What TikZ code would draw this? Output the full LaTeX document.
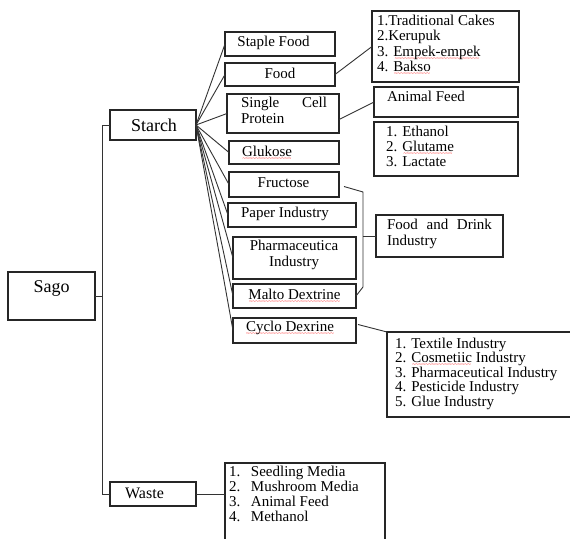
\documentclass[tikz,border=0pt]{standalone}
\usepackage{fontspec}
\setmainfont{Liberation Serif}
\newsavebox\rwbox
\newcommand\rw[1]{\sbox\rwbox{#1}\rlap{\textcolor{red}{\raisebox{-4pt}[0pt][0pt]{\hbox to \wd\rwbox{\cleaders\hbox{\fontsize{6}{6}\selectfont\char126}\hfill}}}}\usebox\rwbox}
\begin{document}
\begin{tikzpicture}[x=1pt,y=-1pt,
  box/.style={draw=black!85,line width=1.1pt,inner sep=0pt,outer sep=0pt,anchor=north west},
  txt/.style={inner sep=0pt,outer sep=0pt,text=black,font=\fontsize{15}{15}\selectfont},
  lst/.style={txt,anchor=north west,align=left},
  con/.style={draw=black!80,line width=0.9pt}]
\fill[white] (0,0) rectangle (570,538);
\useasboundingbox (0,0) rectangle (570,538);
% boxes
\node[box,minimum width=87pt,minimum height=48pt] (sago) at (8,272) {};
\node[box,minimum width=86pt,minimum height=30pt] (starch) at (110,110) {};
\node[box,minimum width=86pt,minimum height=24pt] (waste) at (110,482) {};
\node[box,minimum width=160pt,minimum height=90pt] (wlist) at (225,463) {};
\node[box,minimum width=110pt,minimum height=24pt] (staple) at (225,32) {};
\node[box,minimum width=110pt,minimum height=23pt] (food) at (225,63) {};
\node[box,minimum width=112pt,minimum height=39pt] (scp) at (227,94) {};
\node[box,minimum width=110pt,minimum height=23pt] (gluk) at (229,141) {};
\node[box,minimum width=110pt,minimum height=25pt] (fruc) at (229,172) {};
\node[box,minimum width=128pt,minimum height=24pt] (paper) at (228,203) {};
\node[box,minimum width=123pt,minimum height=42pt] (pharma) at (233,237) {};
\node[box,minimum width=123pt,minimum height=24pt] (malto) at (233,284) {};
\node[box,minimum width=123pt,minimum height=25pt] (cyclo) at (233,318) {};
\node[box,minimum width=147pt,minimum height=71pt] (flist) at (372,11) {};
\node[box,minimum width=144pt,minimum height=30pt] (afeed) at (374,87) {};
\node[box,minimum width=144pt,minimum height=54pt] (elist) at (374,122) {};
\node[box,minimum width=127pt,minimum height=42pt] (fd) at (376,215) {};
\node[box,minimum width=185pt,minimum height=85pt] (clist) at (387,332) {};
% texts
\node[txt,font=\fontsize{18}{18}\selectfont] (tsago) at (51.5,288) {Sago};
\node[txt,font=\fontsize{18}{18}\selectfont] (tstarch) at (154,125) {Starch};
\node[txt,font=\fontsize{16}{16}\selectfont] (twaste) at (144.5,493) {Waste};
\node[txt] (tstaple) at (273.5,43) {Staple Food};
\node[txt] (tfood) at (280,73) {Food};
\node[lst,text width=86pt,font=\fontsize{15}{16}\selectfont] (tscp) at (241,97) {Single\hfill Cell\\Protein};
\node[txt] (tgluk) at (267,151) {\rw{Glukose}};
\node[txt] (tfruc) at (283.5,183) {Fructose};
\node[txt] (tpaper) at (285,214) {Paper Industry};
\node[txt,align=center,font=\fontsize{15}{16}\selectfont] (tpharma) at (294,255) {Pharmaceutica\\Industry};
\node[txt] (tmalto) at (294.5,294) {\rw{Malto Dextrine}};
\node[txt] (tcyclo) at (290,328) {\rw{Cyclo Dexrine}};
\node[lst,font=\fontsize{15}{15.3}\selectfont] (tflist) at (377,15) {1.Traditional Cakes\\2.Kerupuk\\3. \rw{Empek-empek}\\4. \rw{Bakso}};
\node[lst] (tafeed) at (387,91) {Animal Feed};
\node[lst] (telist) at (386,126) {1. Ethanol\\2. \rw{Glutame}\\3. Lactate};
\node[lst,text width=105pt,font=\fontsize{15}{16}\selectfont] (tfd) at (387,219) {Food\hfill and\hfill Drink\\Industry};
\node[lst,font=\fontsize{15}{14.5}\selectfont] (tclist) at (395,338) {1. Textile Industry\\2. \rw{Cosmetiic} Industry\\3. Pharmaceutical Industry\\4. Pesticide Industry\\5. Glue Industry};
\node[lst] (twlist) at (229,466) {\makebox[22pt][l]{1.}Seedling Media\\\makebox[22pt][l]{2.}Mushroom Media\\\makebox[22pt][l]{3.}Animal Feed\\\makebox[22pt][l]{4.}Methanol};
% connectors
\coordinate (bb) at (102,494);
\draw[con] (sago.east) -- (sago.east -| bb);
\draw[con] (starch.west) -| (bb) -- (waste.west);
\foreach \n in {staple,food,scp,gluk,fruc,paper,pharma,malto,cyclo}
  \draw[con] (starch.east) -- (\n.west);
\draw[con] (food.east) -- (flist.west);
\draw[con] ([yshift=-6pt]scp.east) -- (afeed.west);
\coordinate (fb1) at (363,192);
\coordinate (fb2) at (363,287);
\draw[con] ([xshift=5pt,yshift=-2pt]fruc.east) -- (fb1) -- (fb2) -- (malto.east);
\draw[con] (fd.west) -- (fd.west -| fb1);
\draw[con] ([xshift=2pt,yshift=6pt]cyclo.east) -- (clist.north west);
\draw[con] (waste.east) -- (wlist.west |- waste.east);
\end{tikzpicture}
\end{document}
